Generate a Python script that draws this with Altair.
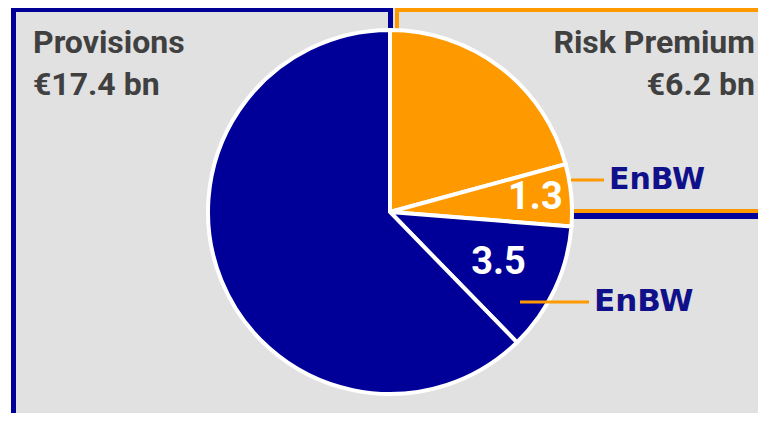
import altair as alt
import pandas as pd

BLUE = "#000099"
ORANGE = "#FF9900"
GRAY = "#E1E1E1"
TEXT = "#404040"
FONT = "Roboto"

# pie slices, clockwise from 12 o'clock (sizes)
parts = ["Risk premium (other)", "Risk premium (EnBW)", "Provisions (EnBW)", "Provisions (other)"]
slice_values = [4.9, 1.3, 2.7, 14.7]
slice_groups = ["risk", "risk", "prov", "prov"]
slice_labels = ["", "1.3", "3.5", ""]
slice_order = [1, 2, 3, 4]

left_title = ["Provisions", "€17.4 bn"]
right_title = ["Risk Premium", "€6.2 bn"]
logo_text = "EnBW"

W, H = 750, 405
OX, OY = 8, 8


def px(x):
    return x - OX


def py(y):
    return y - OY


one = pd.DataFrame({"k": [0]})


def box(x1, y1, x2, y2, color):
    return alt.Chart(one).mark_rect(color=color).encode(
        x=alt.value(px(x1)), x2=alt.value(px(x2)),
        y=alt.value(py(y1)), y2=alt.value(py(y2)))


def label(txt, x, y, align, size=32, color=TEXT, font=FONT, weight="bold", baseline="alphabetic"):
    return alt.Chart(one).mark_text(
        text=txt, align=align, baseline=baseline, font=font, fontSize=size,
        fontWeight=weight, color=color).encode(x=alt.value(px(x)), y=alt.value(py(y)))


def rule(x1, x2, y, color, w=3):
    return alt.Chart(one).mark_rule(color=color, strokeWidth=w).encode(
        x=alt.value(px(x1)), x2=alt.value(px(x2)), y=alt.value(py(y)))


panels = [
    box(11, 5, 770, 425, BLUE),
    box(16, 12, 388, 425, GRAY),
    box(393, 5, 395, 214, GRAY),
    box(388, 219, 770, 425, GRAY),
    box(395, 5, 770, 213, ORANGE),
    box(399, 12, 770, 209, GRAY),
]

pie_df = pd.DataFrame({"part": parts, "value": slice_values, "group": slice_groups,
                       "label": slice_labels, "order": slice_order})

base = alt.Chart(pie_df).encode(
    theta=alt.Theta("value:Q", stack=True),
    order=alt.Order("order:Q"),
    x=alt.value(px(390)), y=alt.value(py(212)),
)

arcs = base.mark_arc(radius=182, stroke="white", strokeWidth=4).encode(
    color=alt.Color("group:N", scale=alt.Scale(domain=["risk", "prov"], range=[ORANGE, BLUE]), legend=None)
)

lab1 = base.transform_calculate(t="datum.order == 2 ? datum.label : ''").mark_text(
    radius=146, font=FONT, fontSize=38, fontWeight="bold", color="white", baseline="middle"
).encode(text="t:N")
lab2 = base.transform_calculate(t="datum.order == 3 ? datum.label : ''").mark_text(
    radius=120, font=FONT, fontSize=38, fontWeight="bold", color="white", baseline="middle"
).encode(text="t:N")

texts = [
    label(left_title[0], 33, 53, "left"),
    label(left_title[1], 33, 95, "left"),
    label(right_title[0], 755, 53, "right"),
    label(right_title[1], 755, 95, "right"),
]

logos = [
    rule(571, 604, 180, ORANGE),
    label(logo_text, 609, 180, "left", size=30, color="#10108a", font="DejaVu Sans", baseline="middle"),
    rule(520, 589, 302, ORANGE),
    label(logo_text, 594, 302, "left", size=31, color="#10108a", font="DejaVu Sans", baseline="middle"),
]

chart = alt.layer(*panels, arcs, lab1, lab2, *texts, *logos).properties(
    width=W, height=H, padding=0, autosize=alt.AutoSizeParams(type="none"), background="white"
).configure_view(stroke=None)

chart.save("out.html", embed_options={"renderer": "svg", "actions": False})
